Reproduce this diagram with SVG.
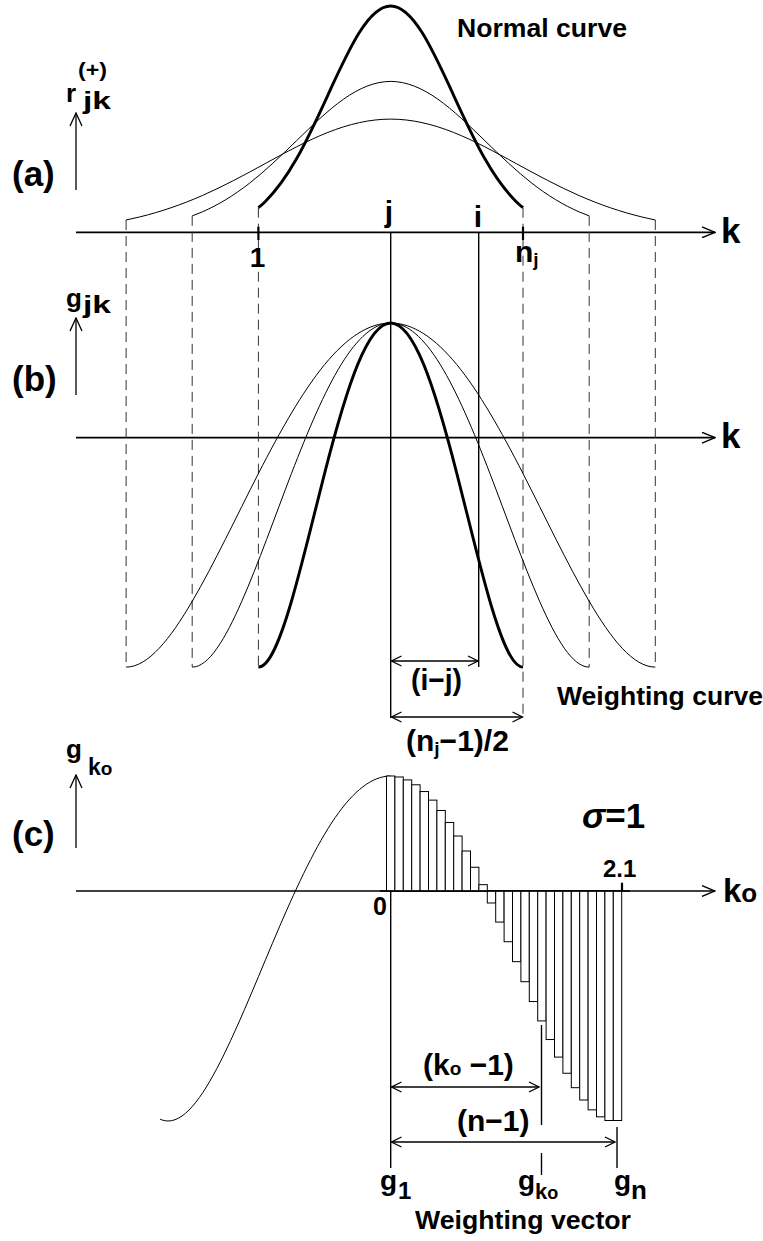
<svg xmlns="http://www.w3.org/2000/svg" width="763" height="1241" viewBox="0 0 763 1241">
<style>
text{font-family:"Liberation Sans",Arial,sans-serif;font-weight:bold;fill:#000}
.ax{stroke:#000;stroke-width:1.7;fill:none}
.va{stroke:#000;stroke-width:1.3;fill:none}
.ln{stroke:#000;stroke-width:1.4;fill:none}
.tk{stroke:#000;stroke-width:2.2;fill:none}
.dash{stroke:#333;stroke-width:1;stroke-dasharray:10 6;fill:none}
.thin{stroke:#000;stroke-width:1;fill:none}
.bold{stroke:#000;stroke-width:2.9;fill:none}
.bar{stroke:#000;stroke-width:1;fill:#fff}
</style>
<defs>
<marker id="axh" viewBox="0 0 15 12" refX="14" refY="6" markerWidth="15" markerHeight="12" markerUnits="userSpaceOnUse" orient="auto-start-reverse"><path d="M1,0.6 L14,6 L1,11.4" fill="none" stroke="#000" stroke-width="1.4"/></marker>
<marker id="vah" viewBox="0 0 15 14" refX="14" refY="7" markerWidth="15" markerHeight="14" markerUnits="userSpaceOnUse" orient="auto-start-reverse"><path d="M1,1 L14,7 L1,13" fill="none" stroke="#000" stroke-width="1.3"/></marker>
<marker id="dh" viewBox="0 0 12 12" refX="11" refY="6" markerWidth="12" markerHeight="12" markerUnits="userSpaceOnUse" orient="auto-start-reverse"><path d="M1,1 L11,6 L1,11" fill="none" stroke="#000" stroke-width="1.3"/></marker>
</defs>

<g id="connectors">
  <line class="ax" x1="76" y1="232.3" x2="715" y2="232.3" marker-end="url(#axh)"/>
  <line class="ax" x1="76" y1="437.7" x2="715" y2="437.7" marker-end="url(#axh)"/>
  <line class="ax" x1="76" y1="891" x2="715" y2="891" marker-end="url(#axh)"/>
  <line class="va" x1="76" y1="190" x2="76" y2="113" marker-end="url(#vah)"/>
  <line class="va" x1="76" y1="395" x2="76" y2="318" marker-end="url(#vah)"/>
  <line class="va" x1="76" y1="848" x2="76" y2="775" marker-end="url(#vah)"/>
  <line class="dash" x1="126.1" y1="220" x2="126.1" y2="667"/>
  <line class="dash" x1="192.2" y1="215.9" x2="192.2" y2="667"/>
  <line class="dash" x1="258.4" y1="207.7" x2="258.4" y2="667"/>
  <line class="dash" x1="523" y1="207.7" x2="523" y2="717"/>
  <line class="dash" x1="589.2" y1="215.9" x2="589.2" y2="667"/>
  <line class="dash" x1="655.3" y1="220" x2="655.3" y2="667"/>
  <line class="tk" x1="258.4" y1="226.7" x2="258.4" y2="240"/>
  <line class="tk" x1="523" y1="226.7" x2="523" y2="240"/>
  <line class="tk" x1="622" y1="882.7" x2="622" y2="891"/>
  <line class="ln" x1="390.7" y1="232.3" x2="390.7" y2="718"/>
  <line class="ln" x1="478.7" y1="232.3" x2="478.7" y2="667"/>
  <line class="ln" x1="390.7" y1="891" x2="390.7" y2="1168"/>
  <line class="ln" x1="541.5" y1="1025" x2="541.5" y2="1125"/>
  <line class="ln" x1="541.5" y1="1153" x2="541.5" y2="1175"/>
  <line class="ln" x1="617" y1="1127" x2="617" y2="1168"/>
  <line class="va" x1="391.5" y1="661" x2="478" y2="661" marker-start="url(#dh)" marker-end="url(#dh)"/>
  <line class="va" x1="391.5" y1="717" x2="522.5" y2="717" marker-start="url(#dh)" marker-end="url(#dh)"/>
  <line class="va" x1="391.5" y1="1087" x2="539" y2="1087" marker-start="url(#dh)" marker-end="url(#dh)"/>
  <line class="va" x1="391.5" y1="1142" x2="615" y2="1142" marker-start="url(#dh)" marker-end="url(#dh)"/>
</g>

<g id="normal-curves">
  <path class="thin" vector-effect="non-scaling-stroke" transform="translate(390.7,232.3) scale(125.6,-113.2)" d="M-2.107,0.10866C-2.07133,0.11683 -2.03567,0.12569 -2,0.13534C-1.83333,0.18045 -1.66667,0.24349 -1.5,0.32465C-1.33333,0.40581 -1.16667,0.50544 -1,0.60653C-0.83333,0.70762 -0.66667,0.80896 -0.5,0.8825C-0.33333,0.95604 -0.16667,1 0,1C0.16667,1 0.33333,0.95604 0.5,0.8825C0.66667,0.80896 0.83333,0.70762 1,0.60653C1.16667,0.50544 1.33333,0.40581 1.5,0.32465C1.66667,0.24349 1.83333,0.18045 2,0.13534C2.03567,0.12569 2.07133,0.11683 2.107,0.10866"/>
  <path class="thin" vector-effect="non-scaling-stroke" transform="translate(390.7,232.3) scale(94.21,-150.9)" d="M-2.107,0.10866C-2.07133,0.11683 -2.03567,0.12569 -2,0.13534C-1.83333,0.18045 -1.66667,0.24349 -1.5,0.32465C-1.33333,0.40581 -1.16667,0.50544 -1,0.60653C-0.83333,0.70762 -0.66667,0.80896 -0.5,0.8825C-0.33333,0.95604 -0.16667,1 0,1C0.16667,1 0.33333,0.95604 0.5,0.8825C0.66667,0.80896 0.83333,0.70762 1,0.60653C1.16667,0.50544 1.33333,0.40581 1.5,0.32465C1.66667,0.24349 1.83333,0.18045 2,0.13534C2.03567,0.12569 2.07133,0.11683 2.107,0.10866"/>
  <path class="bold" vector-effect="non-scaling-stroke" transform="translate(390.7,232.3) scale(62.79,-226.3)" d="M-2.107,0.10866C-2.07133,0.11683 -2.03567,0.12569 -2,0.13534C-1.83333,0.18045 -1.66667,0.24349 -1.5,0.32465C-1.33333,0.40581 -1.16667,0.50544 -1,0.60653C-0.83333,0.70762 -0.66667,0.80896 -0.5,0.8825C-0.33333,0.95604 -0.16667,1 0,1C0.16667,1 0.33333,0.95604 0.5,0.8825C0.66667,0.80896 0.83333,0.70762 1,0.60653C1.16667,0.50544 1.33333,0.40581 1.5,0.32465C1.66667,0.24349 1.83333,0.18045 2,0.13534C2.03567,0.12569 2.07133,0.11683 2.107,0.10866"/>
</g>

<g id="weighting-curves">
  <path class="thin" vector-effect="non-scaling-stroke" transform="translate(390.7,437.7) scale(264.6,-114.7)" d="M-1,-2C-0.91667,-2 -0.83333,-1.75391 -0.75,-1.42578C-0.66667,-1.09766 -0.58333,-0.6875 -0.5,-0.3125C-0.41667,0.0625 -0.33333,0.40234 -0.25,0.63672C-0.16667,0.87109 -0.08333,1 0,1C0.08333,1 0.16667,0.87109 0.25,0.63672C0.33333,0.40234 0.41667,0.0625 0.5,-0.3125C0.58333,-0.6875 0.66667,-1.09766 0.75,-1.42578C0.83333,-1.75391 0.91667,-2 1,-2"/>
  <path class="thin" vector-effect="non-scaling-stroke" transform="translate(390.7,437.7) scale(198.5,-114.7)" d="M-1,-2C-0.91667,-2 -0.83333,-1.75391 -0.75,-1.42578C-0.66667,-1.09766 -0.58333,-0.6875 -0.5,-0.3125C-0.41667,0.0625 -0.33333,0.40234 -0.25,0.63672C-0.16667,0.87109 -0.08333,1 0,1C0.08333,1 0.16667,0.87109 0.25,0.63672C0.33333,0.40234 0.41667,0.0625 0.5,-0.3125C0.58333,-0.6875 0.66667,-1.09766 0.75,-1.42578C0.83333,-1.75391 0.91667,-2 1,-2"/>
  <path class="bold" vector-effect="non-scaling-stroke" transform="translate(390.7,437.7) scale(132.3,-114.7)" d="M-1,-2C-0.91667,-2 -0.83333,-1.75391 -0.75,-1.42578C-0.66667,-1.09766 -0.58333,-0.6875 -0.5,-0.3125C-0.41667,0.0625 -0.33333,0.40234 -0.25,0.63672C-0.16667,0.87109 -0.08333,1 0,1C0.08333,1 0.16667,0.87109 0.25,0.63672C0.33333,0.40234 0.41667,0.0625 0.5,-0.3125C0.58333,-0.6875 0.66667,-1.09766 0.75,-1.42578C0.83333,-1.75391 0.91667,-2 1,-2"/>
</g>

<g id="weighting-vector">
  <path class="thin" vector-effect="non-scaling-stroke" transform="translate(390.7,891) scale(222.6,-115)" d="M-1.036,-1.984C-1.024,-1.995 -1.012,-2 -1,-2C-0.91667,-2 -0.83333,-1.75391 -0.75,-1.42578C-0.66667,-1.09766 -0.58333,-0.6875 -0.5,-0.3125C-0.41667,0.0625 -0.33333,0.40234 -0.25,0.63672C-0.16667,0.87109 -0.08333,1 0,1"/>
  <rect class="bar" x="386.5" y="776" width="8.4" height="115"/>
  <rect class="bar" x="394.9" y="776.98" width="8.4" height="114.02"/>
  <rect class="bar" x="403.3" y="779.92" width="8.4" height="111.08"/>
  <rect class="bar" x="411.7" y="784.79" width="8.4" height="106.21"/>
  <rect class="bar" x="420.1" y="791.54" width="8.4" height="99.46"/>
  <rect class="bar" x="428.5" y="800.13" width="8.4" height="90.87"/>
  <rect class="bar" x="436.9" y="810.47" width="8.4" height="80.53"/>
  <rect class="bar" x="445.3" y="822.47" width="8.4" height="68.53"/>
  <rect class="bar" x="453.7" y="836.02" width="8.4" height="54.98"/>
  <rect class="bar" x="462.1" y="851" width="8.4" height="40"/>
  <rect class="bar" x="470.5" y="867.26" width="8.4" height="23.74"/>
  <rect class="bar" x="478.9" y="884.65" width="8.4" height="6.35"/>
  <rect class="bar" x="487.3" y="891" width="8.4" height="11.98"/>
  <rect class="bar" x="495.7" y="891" width="8.4" height="31.07"/>
  <rect class="bar" x="504.1" y="891" width="8.4" height="50.71"/>
  <rect class="bar" x="512.5" y="891" width="8.4" height="70.66"/>
  <rect class="bar" x="520.9" y="891" width="8.4" height="90.69"/>
  <rect class="bar" x="529.3" y="891" width="8.4" height="110.53"/>
  <rect class="bar" x="537.7" y="891" width="8.4" height="129.91"/>
  <rect class="bar" x="546.1" y="891" width="8.4" height="148.53"/>
  <rect class="bar" x="554.5" y="891" width="8.4" height="166.09"/>
  <rect class="bar" x="562.9" y="891" width="8.4" height="182.25"/>
  <rect class="bar" x="571.3" y="891" width="8.4" height="196.68"/>
  <rect class="bar" x="579.7" y="891" width="8.4" height="209"/>
  <rect class="bar" x="588.1" y="891" width="8.4" height="218.85"/>
  <rect class="bar" x="596.5" y="891" width="8.4" height="225.83"/>
  <rect class="bar" x="604.9" y="891" width="8.4" height="229.52"/>
  <rect class="bar" x="613.3" y="891" width="8.4" height="229.5"/>
  <line class="ax" x1="380" y1="891" x2="630" y2="891"/>
</g>

<g id="labels">
  <text x="457" y="37" font-size="26" textLength="170" lengthAdjust="spacingAndGlyphs">Normal curve</text>
  <text x="12" y="186" font-size="35">(a)</text>
  <text x="12" y="391" font-size="35">(b)</text>
  <text x="12" y="846" font-size="35">(c)</text>
  <text x="66" y="102" font-size="26">r</text>
  <text x="83" y="109" font-size="23" textLength="28" lengthAdjust="spacingAndGlyphs">jk</text>
  <text x="78" y="77" font-size="20" textLength="29" lengthAdjust="spacingAndGlyphs">(+)</text>
  <text x="66" y="307" font-size="26">g</text>
  <text x="83" y="313" font-size="23" textLength="28" lengthAdjust="spacingAndGlyphs">jk</text>
  <text x="66" y="758" font-size="26">g</text>
  <text x="88" y="775" font-size="23">k<tspan font-size="19">o</tspan></text>
  <text x="721" y="243" font-size="35">k</text>
  <text x="721" y="448.4" font-size="35">k</text>
  <text x="723" y="902" font-size="33">k<tspan font-size="26">o</tspan></text>
  <text x="389" y="222" font-size="30" text-anchor="middle">j</text>
  <text x="478" y="227" font-size="30" text-anchor="middle">i</text>
  <text x="257.5" y="267" font-size="28" text-anchor="middle">1</text>
  <text x="515" y="262" font-size="30">n<tspan font-size="19" dy="4">j</tspan></text>
  <text x="411" y="690" font-size="30" textLength="51" lengthAdjust="spacingAndGlyphs">(i−j)</text>
  <text x="557" y="705" font-size="26" textLength="206" lengthAdjust="spacingAndGlyphs">Weighting curve</text>
  <text x="406" y="751" font-size="30">(n<tspan font-size="19" dy="4">j</tspan><tspan dy="-4">−1)/2</tspan></text>
  <text x="582" y="828" font-size="35"><tspan font-style="italic">σ</tspan>=1</text>
  <text x="603" y="877" font-size="24">2.1</text>
  <text x="373" y="915" font-size="25">0</text>
  <text x="423" y="1075" font-size="30">(k<tspan font-size="19">o</tspan> −1)</text>
  <text x="457" y="1131" font-size="30">(n−1)</text>
  <text x="380" y="1190" font-size="28">g</text>
  <text x="398" y="1199" font-size="24">1</text>
  <text x="518" y="1190" font-size="28">g</text>
  <text x="535" y="1199" font-size="22">k<tspan font-size="18">o</tspan></text>
  <text x="614" y="1190" font-size="28">g</text>
  <text x="631" y="1199" font-size="26">n</text>
  <text x="415" y="1229" font-size="26" textLength="216" lengthAdjust="spacingAndGlyphs">Weighting vector</text>
</g>
</svg>
